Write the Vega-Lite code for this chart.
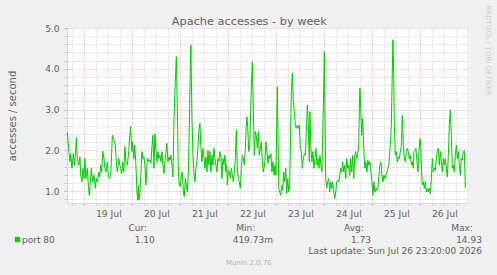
{
  "$schema": "https://vega.github.io/schema/vega-lite/v6.json",
  "background": "#F0F0F0",
  "padding": {"left": 7, "top": 5, "right": 8, "bottom": 10},
  "bounds": "flush",
  "spacing": 25,
  "config": {
    "font": "DejaVu Sans",
    "view": {"stroke": null},
    "axis": {"labelFont": "DejaVu Sans", "titleFont": "DejaVu Sans", "titleFontWeight": "normal"}
  },
  "title": {"text": "Apache accesses - by week", "font": "DejaVu Sans", "fontSize": 11.3, "fontWeight": "normal", "color": "#5f5f5f", "anchor": "middle", "offset": -22},
  "datasets": {
    "accesses": [
      {"h": -8.5, "v": 2.44}, {"h": -7.7, "v": 1.97}, {"h": -7.2, "v": 1.72}, {"h": -6.8, "v": 1.92}, {"h": -6.2, "v": 1.56}, {"h": -5.5, "v": 1.92}, {"h": -4.8, "v": 1.64}, {"h": -4.0, "v": 2.31}, {"h": -3.5, "v": 1.80}, {"h": -2.8, "v": 1.64}, {"h": -2.2, "v": 1.84}, {"h": -1.8, "v": 1.39}, {"h": -1.2, "v": 1.23}, {"h": -0.7, "v": 1.56}, {"h": -0.2, "v": 1.31}, {"h": 0.3, "v": 1.80}, {"h": 0.8, "v": 1.31}, {"h": 1.5, "v": 1.56}, {"h": 2.0, "v": 1.15}, {"h": 2.5, "v": 0.90}, {"h": 2.8, "v": 1.10}, {"h": 3.5, "v": 1.56}, {"h": 4.2, "v": 1.23}, {"h": 4.8, "v": 1.39}, {"h": 5.5, "v": 1.07}, {"h": 6.0, "v": 1.31}, {"h": 6.5, "v": 1.23}, {"h": 7.2, "v": 1.47}, {"h": 7.7, "v": 1.35}, {"h": 8.2, "v": 1.64}, {"h": 8.7, "v": 1.47}, {"h": 9.2, "v": 1.98}, {"h": 9.8, "v": 1.80}, {"h": 10.3, "v": 1.56}, {"h": 10.8, "v": 1.47}, {"h": 11.5, "v": 1.72}, {"h": 12.0, "v": 1.35}, {"h": 12.7, "v": 1.31}, {"h": 13.3, "v": 1.47}, {"h": 14.0, "v": 2.37},
      {"h": 14.8, "v": 2.25}, {"h": 15.5, "v": 2.13}, {"h": 16.0, "v": 1.72}, {"h": 16.5, "v": 1.47}, {"h": 17.2, "v": 1.80}, {"h": 17.7, "v": 1.64}, {"h": 18.2, "v": 1.56}, {"h": 18.7, "v": 1.43}, {"h": 19.2, "v": 1.72}, {"h": 19.7, "v": 1.47}, {"h": 20.3, "v": 2.09}, {"h": 20.8, "v": 1.72}, {"h": 21.5, "v": 1.64}, {"h": 22.2, "v": 1.97}, {"h": 22.7, "v": 2.37}, {"h": 23.2, "v": 2.58}, {"h": 23.7, "v": 1.97}, {"h": 24.2, "v": 2.21}, {"h": 24.8, "v": 1.80}, {"h": 25.2, "v": 2.13}, {"h": 25.7, "v": 1.72}, {"h": 26.0, "v": 1.39}, {"h": 26.3, "v": 0.98}, {"h": 26.7, "v": 0.78}, {"h": 27.0, "v": 1.15}, {"h": 27.3, "v": 0.78}, {"h": 27.8, "v": 0.98}, {"h": 28.3, "v": 1.47}, {"h": 28.8, "v": 1.97}, {"h": 29.3, "v": 1.80}, {"h": 29.8, "v": 1.84}, {"h": 30.3, "v": 1.64}, {"h": 30.8, "v": 1.15}, {"h": 31.3, "v": 1.68}, {"h": 31.8, "v": 1.80}, {"h": 32.3, "v": 1.72}, {"h": 32.8, "v": 1.76}, {"h": 33.3, "v": 1.68}, {"h": 33.8, "v": 2.09}, {"h": 34.3, "v": 2.37}, {"h": 34.8, "v": 1.56}, {"h": 35.3, "v": 2.41}, {"h": 35.8, "v": 2.00}, {"h": 36.3, "v": 1.72}, {"h": 36.8, "v": 1.97}, {"h": 37.3, "v": 1.80}, {"h": 37.8, "v": 1.88}, {"h": 38.3, "v": 1.72}, {"h": 38.8, "v": 1.97}, {"h": 39.3, "v": 1.64}, {"h": 39.8, "v": 1.43},
      {"h": 40.3, "v": 1.72}, {"h": 40.8, "v": 1.97}, {"h": 41.3, "v": 2.17}, {"h": 41.8, "v": 1.72}, {"h": 42.3, "v": 1.84}, {"h": 42.8, "v": 1.76}, {"h": 43.3, "v": 1.88}, {"h": 43.8, "v": 1.64}, {"h": 44.3, "v": 1.35}, {"h": 44.8, "v": 2.62}, {"h": 45.3, "v": 3.44}, {"h": 46.0, "v": 4.30}, {"h": 46.5, "v": 3.03}, {"h": 47.0, "v": 1.47}, {"h": 47.5, "v": 1.15}, {"h": 48.0, "v": 1.11}, {"h": 48.5, "v": 1.39}, {"h": 49.0, "v": 1.47}, {"h": 49.5, "v": 0.98}, {"h": 50.0, "v": 0.86}, {"h": 50.5, "v": 1.31}, {"h": 51.0, "v": 1.15}, {"h": 51.5, "v": 0.98}, {"h": 52.0, "v": 1.47}, {"h": 52.5, "v": 2.62}, {"h": 53.0, "v": 4.09}, {"h": 53.3, "v": 4.58}, {"h": 53.8, "v": 2.78}, {"h": 54.3, "v": 1.88}, {"h": 54.8, "v": 1.47}, {"h": 55.3, "v": 1.23}, {"h": 55.8, "v": 1.56}, {"h": 56.3, "v": 1.76}, {"h": 56.8, "v": 2.05}, {"h": 57.3, "v": 2.50}, {"h": 57.8, "v": 2.66}, {"h": 58.3, "v": 2.05}, {"h": 58.8, "v": 1.72}, {"h": 59.3, "v": 2.05}, {"h": 59.8, "v": 1.84}, {"h": 60.3, "v": 1.56}, {"h": 60.8, "v": 1.84}, {"h": 61.3, "v": 1.47}, {"h": 61.8, "v": 2.00}, {"h": 62.3, "v": 1.64}, {"h": 62.8, "v": 1.97}, {"h": 63.3, "v": 1.47}, {"h": 63.8, "v": 1.88}, {"h": 64.3, "v": 1.64},
      {"h": 64.8, "v": 2.05}, {"h": 65.3, "v": 1.80}, {"h": 65.8, "v": 1.64}, {"h": 66.3, "v": 1.47}, {"h": 66.8, "v": 1.80}, {"h": 67.3, "v": 1.72}, {"h": 67.8, "v": 1.97}, {"h": 68.3, "v": 1.84}, {"h": 68.8, "v": 1.31}, {"h": 69.3, "v": 1.80}, {"h": 69.8, "v": 1.64}, {"h": 70.3, "v": 1.88}, {"h": 70.8, "v": 1.47}, {"h": 71.2, "v": 1.64}, {"h": 71.5, "v": 1.15}, {"h": 72.0, "v": 1.52}, {"h": 72.5, "v": 1.47}, {"h": 73.0, "v": 1.31}, {"h": 73.5, "v": 1.56}, {"h": 74.0, "v": 1.39}, {"h": 74.5, "v": 1.23}, {"h": 75.0, "v": 1.47}, {"h": 75.5, "v": 1.80}, {"h": 76.0, "v": 2.50}, {"h": 76.5, "v": 1.56}, {"h": 77.0, "v": 1.31}, {"h": 77.5, "v": 1.23}, {"h": 78.0, "v": 1.07}, {"h": 78.5, "v": 1.56}, {"h": 79.0, "v": 1.88}, {"h": 79.5, "v": 1.80}, {"h": 80.0, "v": 1.64}, {"h": 80.5, "v": 2.05}, {"h": 81.0, "v": 2.62}, {"h": 81.3, "v": 2.82}, {"h": 81.7, "v": 2.58}, {"h": 82.2, "v": 1.97}, {"h": 82.7, "v": 2.13}, {"h": 83.2, "v": 3.03}, {"h": 83.7, "v": 3.85}, {"h": 84.0, "v": 4.17}, {"h": 84.5, "v": 3.03}, {"h": 85.0, "v": 1.88}, {"h": 85.5, "v": 2.46}, {"h": 86.0, "v": 2.37}, {"h": 86.5, "v": 2.05}, {"h": 87.0, "v": 2.46}, {"h": 87.5, "v": 1.88}, {"h": 88.0, "v": 2.05}, {"h": 88.5, "v": 2.21}, {"h": 89.0, "v": 1.72}, {"h": 89.5, "v": 1.47},
      {"h": 89.8, "v": 1.56}, {"h": 90.3, "v": 1.72}, {"h": 90.8, "v": 2.21}, {"h": 91.3, "v": 1.97}, {"h": 91.8, "v": 1.68}, {"h": 92.3, "v": 1.88}, {"h": 92.8, "v": 1.80}, {"h": 93.3, "v": 1.92}, {"h": 93.8, "v": 1.47}, {"h": 94.3, "v": 1.72}, {"h": 94.8, "v": 1.39}, {"h": 95.3, "v": 1.64}, {"h": 95.8, "v": 1.39}, {"h": 96.2, "v": 2.62}, {"h": 96.5, "v": 3.56}, {"h": 96.8, "v": 2.46}, {"h": 97.2, "v": 1.07}, {"h": 97.7, "v": 0.98}, {"h": 98.2, "v": 0.90}, {"h": 98.7, "v": 1.15}, {"h": 99.2, "v": 1.02}, {"h": 99.7, "v": 1.47}, {"h": 100.2, "v": 1.23}, {"h": 100.7, "v": 1.56}, {"h": 101.2, "v": 0.94}, {"h": 101.7, "v": 1.31}, {"h": 102.2, "v": 0.98}, {"h": 102.7, "v": 1.15}, {"h": 103.2, "v": 2.62}, {"h": 103.5, "v": 3.44}, {"h": 104.0, "v": 3.89}, {"h": 104.5, "v": 3.19}, {"h": 105.0, "v": 2.95}, {"h": 105.5, "v": 2.62}, {"h": 106.0, "v": 2.54}, {"h": 106.5, "v": 2.62}, {"h": 107.0, "v": 2.54}, {"h": 107.5, "v": 2.62}, {"h": 108.0, "v": 2.05}, {"h": 108.5, "v": 1.97}, {"h": 109.0, "v": 1.56}, {"h": 109.5, "v": 1.80}, {"h": 110.0, "v": 1.92}, {"h": 110.5, "v": 1.88}, {"h": 111.0, "v": 2.46}, {"h": 111.5, "v": 3.11}, {"h": 112.0, "v": 2.62}, {"h": 112.5, "v": 1.72}, {"h": 112.8, "v": 2.95}, {"h": 113.3, "v": 2.05}, {"h": 113.8, "v": 1.72}, {"h": 114.3, "v": 1.97},
      {"h": 114.8, "v": 1.56}, {"h": 115.3, "v": 1.80}, {"h": 115.8, "v": 2.05}, {"h": 116.3, "v": 1.64}, {"h": 116.8, "v": 1.80}, {"h": 117.3, "v": 1.56}, {"h": 117.8, "v": 1.88}, {"h": 118.3, "v": 1.64}, {"h": 118.8, "v": 1.47}, {"h": 119.3, "v": 2.62}, {"h": 119.7, "v": 3.52}, {"h": 120.0, "v": 4.42}, {"h": 120.3, "v": 3.03}, {"h": 120.7, "v": 1.31}, {"h": 121.2, "v": 1.07}, {"h": 121.7, "v": 1.23}, {"h": 122.2, "v": 1.31}, {"h": 122.7, "v": 0.98}, {"h": 123.2, "v": 1.23}, {"h": 123.7, "v": 1.07}, {"h": 124.2, "v": 1.23}, {"h": 124.7, "v": 0.98}, {"h": 125.2, "v": 0.82}, {"h": 125.7, "v": 0.98}, {"h": 126.2, "v": 1.23}, {"h": 126.7, "v": 1.27}, {"h": 127.2, "v": 1.23}, {"h": 127.7, "v": 1.39}, {"h": 128.2, "v": 1.56}, {"h": 128.7, "v": 1.47}, {"h": 129.2, "v": 1.72}, {"h": 129.7, "v": 1.47}, {"h": 130.2, "v": 1.64}, {"h": 130.7, "v": 1.31}, {"h": 131.2, "v": 1.80}, {"h": 131.7, "v": 1.56}, {"h": 132.2, "v": 1.64}, {"h": 132.7, "v": 1.39}, {"h": 133.2, "v": 1.80}, {"h": 133.7, "v": 1.47}, {"h": 134.2, "v": 1.88}, {"h": 134.7, "v": 1.31}, {"h": 135.2, "v": 1.88}, {"h": 135.7, "v": 1.97}, {"h": 136.2, "v": 1.80}, {"h": 136.7, "v": 1.92}, {"h": 137.2, "v": 2.13}, {"h": 137.5, "v": 3.03}, {"h": 137.8, "v": 3.52}, {"h": 138.2, "v": 3.03}, {"h": 138.7, "v": 2.37}, {"h": 139.2, "v": 2.78},
      {"h": 139.8, "v": 1.97}, {"h": 140.3, "v": 1.56}, {"h": 140.8, "v": 1.72}, {"h": 141.3, "v": 1.47}, {"h": 141.8, "v": 1.76}, {"h": 142.3, "v": 1.64}, {"h": 142.8, "v": 1.72}, {"h": 143.3, "v": 1.47}, {"h": 143.8, "v": 1.23}, {"h": 144.3, "v": 0.90}, {"h": 144.8, "v": 1.23}, {"h": 145.3, "v": 0.98}, {"h": 145.8, "v": 1.07}, {"h": 146.3, "v": 1.02}, {"h": 146.8, "v": 1.07}, {"h": 147.3, "v": 1.39}, {"h": 147.8, "v": 1.64}, {"h": 148.3, "v": 1.72}, {"h": 148.8, "v": 1.39}, {"h": 149.3, "v": 1.23}, {"h": 149.8, "v": 1.39}, {"h": 150.3, "v": 1.31}, {"h": 150.8, "v": 1.39}, {"h": 151.3, "v": 1.47}, {"h": 151.8, "v": 1.56}, {"h": 152.3, "v": 1.64}, {"h": 152.8, "v": 2.05}, {"h": 153.2, "v": 2.29}, {"h": 153.5, "v": 2.62}, {"h": 153.8, "v": 3.44}, {"h": 154.3, "v": 4.71}, {"h": 154.7, "v": 3.85}, {"h": 155.0, "v": 2.62}, {"h": 155.5, "v": 1.88}, {"h": 156.0, "v": 1.97}, {"h": 156.5, "v": 1.72}, {"h": 157.0, "v": 1.84}, {"h": 157.5, "v": 1.80}, {"h": 158.0, "v": 1.97}, {"h": 158.5, "v": 2.13}, {"h": 159.0, "v": 2.86}, {"h": 159.5, "v": 2.13}, {"h": 160.0, "v": 1.80}, {"h": 160.5, "v": 1.72}, {"h": 161.0, "v": 1.97}, {"h": 161.5, "v": 2.05}, {"h": 162.0, "v": 1.97}, {"h": 162.5, "v": 1.80}, {"h": 163.0, "v": 1.88}, {"h": 163.5, "v": 1.64}, {"h": 164.0, "v": 1.72}, {"h": 164.5, "v": 1.56},
      {"h": 164.8, "v": 1.97}, {"h": 165.3, "v": 2.00}, {"h": 165.8, "v": 2.05}, {"h": 166.3, "v": 1.72}, {"h": 166.8, "v": 1.47}, {"h": 167.3, "v": 1.97}, {"h": 167.8, "v": 2.29}, {"h": 168.2, "v": 2.13}, {"h": 168.5, "v": 1.64}, {"h": 169.0, "v": 1.15}, {"h": 169.5, "v": 1.23}, {"h": 170.0, "v": 1.07}, {"h": 170.5, "v": 1.23}, {"h": 171.0, "v": 0.98}, {"h": 171.5, "v": 1.07}, {"h": 172.0, "v": 0.98}, {"h": 172.5, "v": 1.07}, {"h": 173.0, "v": 0.94}, {"h": 173.5, "v": 1.31}, {"h": 174.0, "v": 1.80}, {"h": 174.5, "v": 1.47}, {"h": 175.0, "v": 1.56}, {"h": 175.5, "v": 1.52}, {"h": 176.0, "v": 1.80}, {"h": 176.5, "v": 1.97}, {"h": 177.0, "v": 2.05}, {"h": 177.5, "v": 1.64}, {"h": 178.0, "v": 1.97}, {"h": 178.5, "v": 1.72}, {"h": 179.0, "v": 1.47}, {"h": 179.5, "v": 1.80}, {"h": 180.0, "v": 1.64}, {"h": 180.5, "v": 1.80}, {"h": 181.0, "v": 1.56}, {"h": 181.5, "v": 1.35}, {"h": 182.0, "v": 1.88}, {"h": 182.5, "v": 2.62}, {"h": 183.0, "v": 2.99}, {"h": 183.5, "v": 2.37}, {"h": 184.0, "v": 1.56}, {"h": 184.5, "v": 1.64}, {"h": 185.0, "v": 1.47}, {"h": 185.5, "v": 1.88}, {"h": 186.0, "v": 2.13}, {"h": 186.5, "v": 1.80}, {"h": 187.0, "v": 1.97}, {"h": 187.5, "v": 1.64}, {"h": 188.0, "v": 1.39}, {"h": 188.5, "v": 1.80}, {"h": 189.0, "v": 1.76}, {"h": 189.5, "v": 1.97}, {"h": 190.0, "v": 2.00}, {"h": 190.5, "v": 1.07}
    ],
    "stats": [
      {"row": "header", "column": "Cur", "label": "Cur:"},
      {"row": "header", "column": "Min", "label": "Min:"},
      {"row": "header", "column": "Avg", "label": "Avg:"},
      {"row": "header", "column": "Max", "label": "Max:"},
      {"row": "values", "column": "Cur", "label": "1.10"},
      {"row": "values", "column": "Min", "label": "419.73m"},
      {"row": "values", "column": "Avg", "label": "1.73"},
      {"row": "values", "column": "Max", "label": "14.93"},
      {"row": "update", "column": "Max", "label": "Last update: Sun Jul 26 23:20:00 2026"},
      {"row": "footer", "column": "Min", "label": "Munin 2.0.76"}
    ]
  },
  "vconcat": [
    {
      "width": 400,
      "height": 175,
      "view": {"fill": "#FFFFFF", "stroke": null},
      "data": {"name": "accesses"},
      "resolve": {"axis": {"x": "independent", "y": "independent"}},
      "layer": [
        {
          "mark": {"type": "line", "opacity": 0},
          "encoding": {
            "x": {"field": "h", "type": "quantitative", "scale": {"domain": [-8.667, 191.333], "nice": false, "zero": false},
              "axis": {"orient": "bottom", "values": [-6, 6, 12, 18, 30, 36, 42, 54, 60, 66, 78, 84, 90, 102, 108, 114, 126, 132, 138, 150, 156, 162, 174, 180, 186], "grid": true, "gridColor": "#C4C4C4", "gridDash": [1, 2], "labels": false, "ticks": true, "tickSize": 2, "tickColor": "#C4C4C4", "domain": false, "title": null, "minExtent": 0, "maxExtent": 0}},
            "y": {"field": "v", "type": "quantitative", "scale": {"domain": [0.71, 5.0], "nice": false, "zero": false},
              "axis": {"orient": "left", "values": [0.8, 1.2, 1.4, 1.6, 1.8, 2.2, 2.4, 2.6, 2.8, 3.2, 3.4, 3.6, 3.8, 4.2, 4.4, 4.6, 4.8], "grid": true, "gridColor": "#C4C4C4", "gridDash": [1, 2], "labels": false, "ticks": true, "tickSize": 3, "tickColor": "#C4C4C4", "domain": false, "title": null, "minExtent": 0, "maxExtent": 0}}
          }
        },
        {
          "mark": {"type": "line", "opacity": 0},
          "encoding": {
            "x": {"field": "h", "type": "quantitative", "scale": {"domain": [-8.667, 191.333], "nice": false, "zero": false},
              "axis": {"orient": "bottom", "values": [0, 24, 48, 72, 96, 120, 144, 168], "grid": true, "gridColor": "#E8A0A0", "gridDash": [1, 2], "labels": false, "ticks": true, "tickSize": 2, "tickColor": "#E8A0A0", "domain": false, "title": null, "minExtent": 0, "maxExtent": 0}},
            "y": {"field": "v", "type": "quantitative", "scale": {"domain": [0.71, 5.0], "nice": false, "zero": false},
              "axis": {"orient": "left", "values": [1, 2, 3, 4, 5], "format": ".1f", "grid": true, "gridColor": "#E8A0A0", "gridDash": [1, 2], "ticks": true, "tickSize": 3, "tickColor": "#E8A0A0", "domain": true, "domainColor": "#CFD6F8", "labelColor": "#5f5f5f", "labelFontSize": 9, "labelPadding": 5, "title": "accesses / second", "titleColor": "#5f5f5f", "titleFontSize": 10, "titleFontWeight": "normal", "titlePadding": 27}}
          }
        },
        {
          "mark": {"type": "line", "strokeWidth": 1},
          "encoding": {
            "x": {"field": "h", "type": "quantitative", "scale": {"domain": [-8.667, 191.333], "nice": false, "zero": false},
              "axis": {"orient": "bottom", "values": [12, 36, 60, 84, 108, 132, 156, 180], "labelExpr": "utcFormat(utc(2026, 6, 19) + datum.value * 3600000, '%d %b')", "grid": false, "ticks": false, "domain": true, "domainColor": "#CFD6F8", "labelColor": "#5f5f5f", "labelFontSize": 9.2, "labelPadding": 6, "title": null}},
            "y": {"field": "v", "type": "quantitative", "scale": {"domain": [0.71, 5.0], "nice": false, "zero": false},
              "axis": {"orient": "right", "labels": false, "ticks": false, "domain": false, "grid": false, "title": "RRDTOOL / TOBI OETIKER", "titleAngle": 90, "titleAlign": "left", "titleBaseline": "middle", "titleX": 20, "titleY": -23, "titleFontSize": 7, "titleColor": "#CCCCCC", "titleFontWeight": "normal"}},
            "color": {"datum": "port 80", "type": "nominal", "scale": {"range": ["#00CC00"]},
              "legend": {"orient": "none", "legendX": -54, "legendY": 207, "title": null, "symbolType": "square", "symbolSize": 28, "labelFontSize": 9, "labelColor": "#5f5f5f", "labelOffset": 0, "padding": 0,
                "encode": {"symbols": {"update": {"fill": {"value": "#00CC00"}, "stroke": {"value": "transparent"}, "strokeWidth": {"value": 0}}}}}}
          }
        }
      ]
    },
    {
      "width": 400,
      "height": 34.6,
      "data": {"name": "stats"},
      "encoding": {
        "x": {"field": "column", "type": "nominal", "scale": {"type": "point", "domain": ["Cur", "Min", "Avg", "Max"], "padding": 0.35, "align": 1}, "axis": null},
        "y": {"field": "row", "type": "nominal", "scale": {"type": "point", "domain": ["header", "values", "update", "footer"], "padding": 0}, "axis": null},
        "text": {"field": "label", "type": "nominal"}
      },
      "layer": [
        {"transform": [{"filter": "datum.row === 'header'"}], "mark": {"type": "text", "font": "DejaVu Sans", "fontSize": 9, "color": "#5f5f5f", "dx": -5}},
        {"transform": [{"filter": "datum.row === 'values'"}], "mark": {"type": "text", "font": "DejaVu Sans", "fontSize": 9, "color": "#5f5f5f", "dx": 2}},
        {"transform": [{"filter": "datum.row === 'update'"}], "mark": {"type": "text", "font": "DejaVu Sans", "fontSize": 9, "color": "#5f5f5f", "align": "right", "dx": 15}},
        {"transform": [{"filter": "datum.row === 'footer'"}], "mark": {"type": "text", "font": "DejaVu Sans", "fontSize": 7, "color": "#B4B4B4", "dx": -2}}
      ]
    }
  ]
}
